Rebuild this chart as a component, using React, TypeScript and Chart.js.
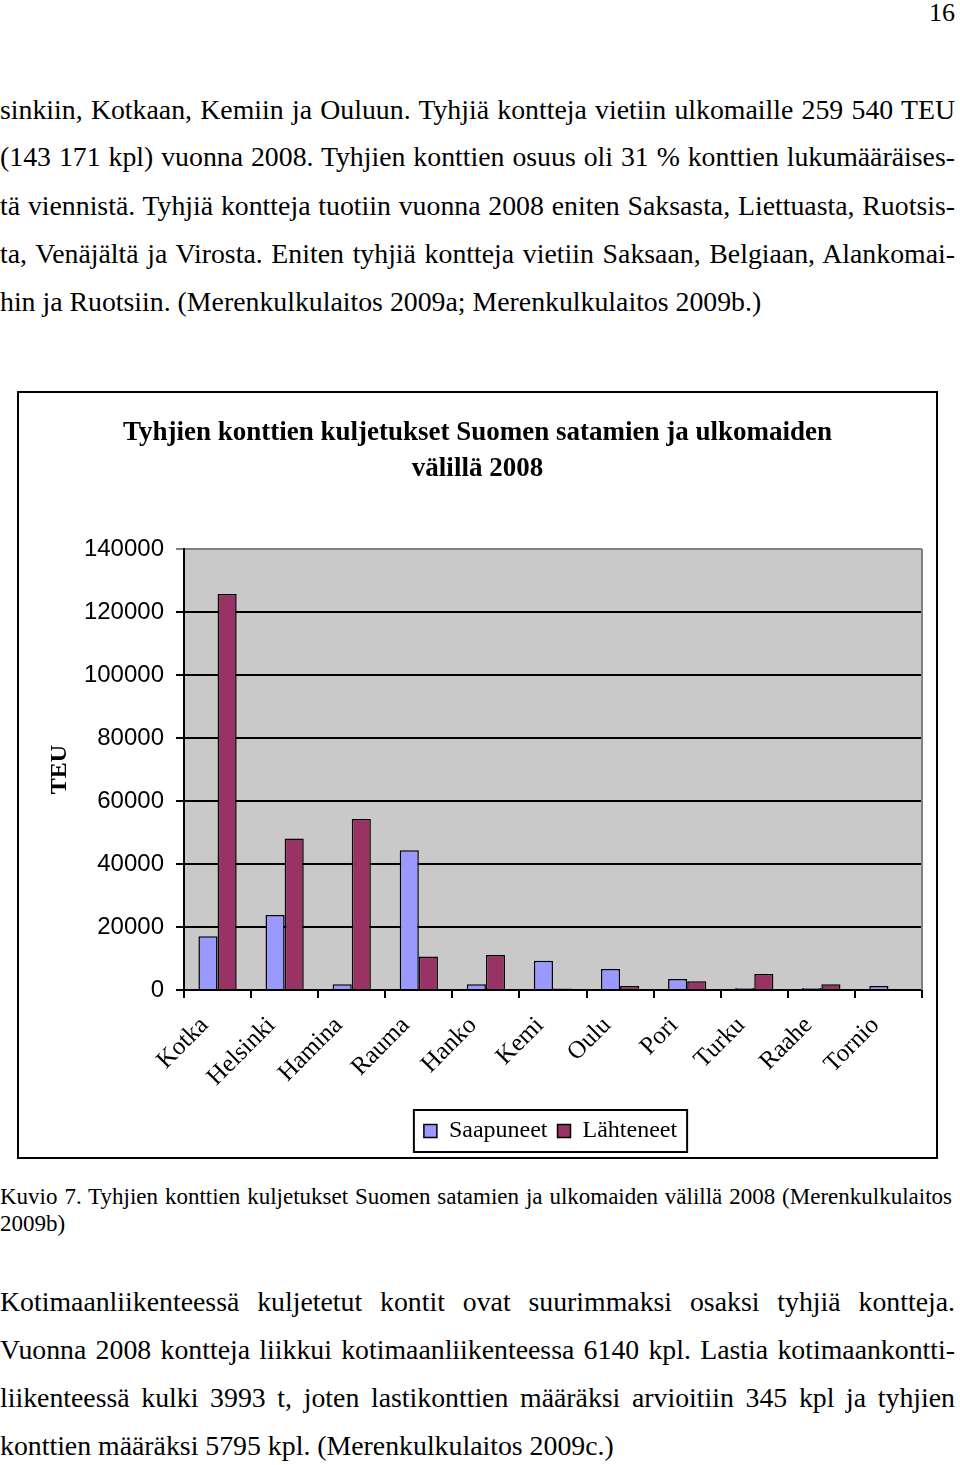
import React, { useEffect, useRef } from "react";
import { Chart, registerables } from "chart.js";

Chart.register(...registerables);

// ---------- data ----------
const ports = ["Kotka", "Helsinki", "Hamina", "Rauma", "Hanko", "Kemi", "Oulu", "Pori", "Turku", "Raahe", "Tornio"];
const saapuneet = [17100, 23800, 1800, 44400, 1800, 9300, 6700, 3500, 600, 600, 1300];
const lahteneet = [125700, 48100, 54300, 10600, 11100, 500, 1300, 2800, 5100, 1800, 0];
const seriesNames = ["Saapuneet", "Lähteneet"];
const chartTitle = ["Tyhjien konttien kuljetukset Suomen satamien ja ulkomaiden", "välillä 2008"];
const yAxisTitle = "TEU";
const yMin = 0;
const yMax = 140000;
const yStep = 20000;

const pageNumber = "16";
const para1 = [
  "sinkiin, Kotkaan, Kemiin ja Ouluun. Tyhjiä kontteja vietiin ulkomaille 259 540 TEU",
  "(143 171 kpl) vuonna 2008. Tyhjien konttien osuus oli 31 % konttien lukumääräises-",
  "tä viennistä. Tyhjiä kontteja tuotiin vuonna 2008 eniten Saksasta, Liettuasta, Ruotsis-",
  "ta, Venäjältä ja Virosta. Eniten tyhjiä kontteja vietiin Saksaan, Belgiaan, Alankomai-",
  "hin ja Ruotsiin. (Merenkulkulaitos 2009a; Merenkulkulaitos 2009b.)",
];
const caption = [
  "Kuvio 7. Tyhjien konttien kuljetukset Suomen satamien ja ulkomaiden välillä 2008 (Merenkulkulaitos",
  "2009b)",
];
const para2 = [
  "Kotimaanliikenteessä kuljetetut kontit ovat suurimmaksi osaksi tyhjiä kontteja.",
  "Vuonna 2008 kontteja liikkui kotimaanliikenteessa 6140 kpl. Lastia kotimaankontti-",
  "liikenteessä kulki 3993 t, joten lastikonttien määräksi arvioitiin 345 kpl ja tyhjien",
  "konttien määräksi 5795 kpl. (Merenkulkulaitos 2009c.)",
];

// ---------- styles ----------
const SERIF = "'Liberation Serif', 'Times New Roman', serif";
const SANS = "'Liberation Sans', Arial, sans-serif";
const BLUE = "#9999ff";
const RED = "#993366";
const PLOT_BG = "#c9c9c9";
const LEGEND_SHIFT = 73;

const plotBgPlugin = {
  id: "plotBg",
  beforeDraw(chart: any) {
    const { ctx, chartArea: a } = chart;
    ctx.save();
    ctx.fillStyle = PLOT_BG;
    ctx.fillRect(a.left, a.top, a.right - a.left, a.bottom - a.top);
    ctx.restore();
  },
  beforeDatasetsDraw(chart: any) {
    const { ctx, chartArea: a } = chart;
    ctx.save();
    ctx.strokeStyle = "#808080";
    ctx.lineWidth = 2;
    ctx.beginPath();
    ctx.moveTo(a.right, a.top);
    ctx.lineTo(a.right, a.bottom);
    ctx.stroke();
    ctx.restore();
  },
};

const legendBoxPlugin = {
  id: "legendBox",
  afterLayout(chart: any) {
    const lg = chart.legend;
    if (lg) {
      lg.left += LEGEND_SHIFT;
      lg.right += LEGEND_SHIFT;
    }
  },
  afterDraw(chart: any) {
    const lg = chart.legend;
    const hb = lg && lg.legendHitBoxes;
    if (!hb || !hb.length) return;
    const { ctx } = chart;
    const last = hb[hb.length - 1];
    const left = hb[0].left - 10;
    const right = last.left + last.width + 10;
    const cy = hb[0].top + hb[0].height / 2;
    ctx.save();
    ctx.strokeStyle = "#000";
    ctx.lineWidth = 2;
    ctx.strokeRect(left, cy - 21, right - left, 42);
    ctx.restore();
  },
};

function BarChart() {
  const ref = useRef<HTMLCanvasElement>(null);
  useEffect(() => {
    if (!ref.current) return;
    const chart = new Chart(ref.current, {
      type: "bar",
      data: {
        labels: ports,
        datasets: [
          {
            label: seriesNames[0],
            data: saapuneet,
            backgroundColor: BLUE,
            borderColor: "#000",
            borderWidth: 1.5,
            categoryPercentage: 0.57,
            barPercentage: 1,
          },
          {
            label: seriesNames[1],
            data: lahteneet,
            backgroundColor: RED,
            borderColor: "#000",
            borderWidth: 1.5,
            categoryPercentage: 0.57,
            barPercentage: 1,
          },
        ],
      },
      options: {
        animation: false,
        responsive: true,
        maintainAspectRatio: false,
        devicePixelRatio: 1,
        layout: { padding: { left: 14, right: 14, top: 0, bottom: 4 } },
        plugins: {
          title: {
            display: true,
            text: chartTitle,
            color: "#000",
            font: { family: SERIF, size: 27, weight: "bold", lineHeight: "36px" },
            padding: { top: 22, bottom: 62 },
          },
          legend: {
            position: "bottom",
            labels: {
              color: "#000",
              font: { family: SERIF, size: 24 },
              boxWidth: 13,
              boxHeight: 13,
              padding: 10,
            },
          },
          tooltip: { enabled: false },
        },
        scales: {
          x: {
            type: "category",
            offset: true,
            grid: {
              display: true,
              offset: true,
              drawOnChartArea: false,
              drawTicks: true,
              tickLength: 8,
              color: "#000",
              lineWidth: 2,
            },
            border: { display: true, color: "#000", width: 2 },
            ticks: {
              color: "#000",
              font: { family: SERIF, size: 25 },
              minRotation: 45,
              maxRotation: 45,
              autoSkip: false,
              padding: 13,
              labelOffset: -13,
            },
            afterFit(scale: any) {
              scale.height = 119;
            },
          },
          y: {
            min: yMin,
            max: yMax,
            grid: {
              color: (c: any) => (c.tick && c.tick.value === yMax ? "#808080" : "#000"),
              lineWidth: 2,
              drawTicks: true,
              tickLength: 8,
            },
            border: { display: true, color: "#000", width: 2 },
            ticks: {
              stepSize: yStep,
              color: "#000",
              font: { family: SANS, size: 24 },
              padding: 12,
              callback: (v: any) => String(v),
            },
            title: {
              display: true,
              text: yAxisTitle,
              color: "#000",
              font: { family: SERIF, size: 24, weight: "bold" },
              padding: { top: 12, bottom: 0 },
            },
            afterFit(scale: any) {
              scale.width = 151;
            },
          },
        },
      },
      plugins: [plotBgPlugin, legendBoxPlugin],
    } as any);
    return () => chart.destroy();
  }, []);
  return <canvas ref={ref} />;
}

function Line({ text, top, justify, size, lh, width }: any) {
  return (
    <div
      style={{
        position: "absolute",
        left: 0,
        top,
        width,
        height: lh,
        lineHeight: `${lh}px`,
        fontFamily: SERIF,
        fontSize: size,
        color: "#000",
        whiteSpace: "nowrap",
        textAlign: justify ? "justify" : "left",
        textAlignLast: justify ? "justify" : "left",
      } as any}
    >
      {text}
    </div>
  );
}

export default function App() {
  const p1Centers = [110, 157, 206, 254, 302];
  const p2Centers = [1302, 1350, 1398, 1446];
  const capCenters = [1197, 1224];
  return (
    <div
      style={{
        position: "absolute",
        left: 0,
        top: 0,
        width: 960,
        height: 1465,
        background: "#fff",
        overflow: "hidden",
      }}
    >
      <div
        style={{
          position: "absolute",
          right: 5,
          top: 0,
          fontFamily: SERIF,
          fontSize: 26,
          lineHeight: "26px",
          color: "#000",
        }}
      >
        {pageNumber}
      </div>
      {para1.map((t, i) => (
        <Line key={"a" + i} text={t} top={p1Centers[i] - 24} lh={48} size={27.8} width={955} justify={i < para1.length - 1} />
      ))}
      <div
        style={{
          position: "absolute",
          left: 17,
          top: 391,
          width: 921,
          height: 768,
          border: "2px solid #000",
          boxSizing: "border-box",
          background: "#fff",
        }}
      >
        <div style={{ position: "absolute", left: 0, top: 0, width: 917, height: 764 }}>
          <BarChart />
        </div>
      </div>
      {caption.map((t, i) => (
        <Line key={"c" + i} text={t} top={capCenters[i] - 14} lh={28} size={23} width={952} justify={i === 0} />
      ))}
      {para2.map((t, i) => (
        <Line key={"b" + i} text={t} top={p2Centers[i] - 24} lh={48} size={27.8} width={955} justify={i < para2.length - 1} />
      ))}
    </div>
  );
}
